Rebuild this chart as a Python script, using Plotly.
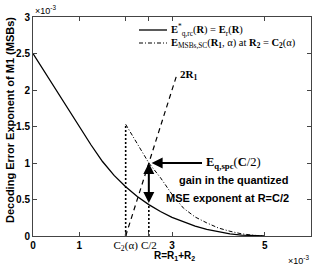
import plotly.graph_objects as go

# values in units of 1e-3
er_x = [0, 0.5, 1.0, 1.25, 1.5, 1.75, 2.0, 2.25, 2.5, 2.75, 3.0, 3.25, 3.5, 3.75, 4.0, 4.25, 4.5, 4.75, 5.0]
er_y = [2.5, 2.0, 1.5, 1.25, 1.02, 0.83, 0.675, 0.54, 0.43, 0.335, 0.255, 0.19, 0.135, 0.09, 0.055, 0.03, 0.013, 0.003, 0.0]

sc_x = [2.0, 2.0, 2.25, 2.5, 2.75, 3.0, 3.25, 3.5, 3.75, 4.0, 4.25, 4.5, 4.75, 5.0]
sc_y = [0.0, 1.53, 1.26, 1.0, 0.8, 0.57, 0.38, 0.26, 0.18, 0.11, 0.065, 0.03, 0.01, 0.0]

r1_x = [2.0, 3.09]
r1_y = [0.0, 2.18]

cq_x = [2.5, 2.5]
cq_y = [0.0, 0.43]

x_ticks = [0, 1, 2, 2.5, 3, 5]
x_labels = ["<b>0</b>", "<b>1</b>", "<span style='font-family:Liberation Serif;font-size:11px'>C<sub>2</sub>(α)</span>",
            "<span style='font-family:Liberation Serif;font-size:11px'>C/2</span>", "<b>3</b>", "<b>5</b>"]
y_ticks = [0, 0.5, 1, 1.5, 2, 2.5, 3]
y_labels = ["0", "0.5", "1", "1.5", "2", "2.5", "3"]

legend_names = ["<b>E</b><sup>*</sup><sub>q,rc</sub>(<b>R</b>) = <b>E</b><sub>r</sub>(<b>R</b>)",
                "<b>E</b><sub>MSBs,SC</sub>(<b>R<sub>1</sub></b>, α) at <b>R<sub>2</sub></b> = <b>C<sub>2</sub></b>(α)"]

SANS = "Liberation Sans"
SERIF = "Liberation Serif"

W, H = 319, 268
L, R, T, B = 33, 8, 17, 32
pw, ph = W - L - R, H - T - B

def px(x):
    return (x - L) / pw

def py(y):
    return (H - B - y) / ph

fig = go.Figure()
fig.add_trace(go.Scatter(x=er_x, y=er_y, mode="lines", line=dict(color="black", width=1.3), showlegend=False))
fig.add_trace(go.Scatter(x=sc_x[1:], y=sc_y[1:], mode="lines", line=dict(color="black", width=1, dash="4px,2px,1px,2px"),
                         showlegend=False))
fig.add_trace(go.Scatter(x=sc_x[:2], y=sc_y[:2], mode="lines", line=dict(color="black", width=1.6, dash="2px,2px"),
                         showlegend=False))
fig.add_trace(go.Scatter(x=r1_x, y=r1_y, mode="lines", line=dict(color="black", width=1.2, dash="5px,4px"),
                         showlegend=False))
fig.add_trace(go.Scatter(x=cq_x, y=cq_y, mode="lines", line=dict(color="black", width=1.6, dash="2px,2px"),
                         showlegend=False))

shapes = [
    dict(type="line", xref="paper", yref="paper", x0=px(139), x1=px(167), y0=py(30), y1=py(30),
         line=dict(color="black", width=1.3)),
    dict(type="line", xref="paper", yref="paper", x0=px(139), x1=px(167), y0=py(43), y1=py(43),
         line=dict(color="black", width=1, dash="4px,2px,1px,2px")),
]

ann = []
ann.append(dict(x=px(169), y=py(30), xref="paper", yref="paper", xanchor="left", yanchor="middle", showarrow=False,
                text=legend_names[0], font=dict(family=SERIF, size=10.5, color="black")))
ann.append(dict(x=px(169), y=py(43), xref="paper", yref="paper", xanchor="left", yanchor="middle", showarrow=False,
                text=legend_names[1], font=dict(family=SERIF, size=10.5, color="black")))
# double arrow
ann.append(dict(x=2.5, y=1.0, ax=2.5, ay=0.43, xref="x", yref="y", axref="x", ayref="y",
                text="", showarrow=True, arrowhead=2, arrowside="end+start", arrowsize=1.1, arrowwidth=2, arrowcolor="black"))
# pointer arrow
ann.append(dict(x=2.56, y=1.0, ax=3.68, ay=1.0, xref="x", yref="y", axref="x", ayref="y",
                text="", showarrow=True, arrowhead=2, arrowsize=1.1, arrowwidth=2, arrowcolor="black"))
ann.append(dict(x=3.7, y=1.0, xref="x", yref="y", xanchor="left", yanchor="middle", showarrow=False,
                text="<b>E</b><sub><b>q,spc</b></sub>(<b>C</b>/2)", font=dict(family=SERIF, size=12.5, color="black")))
ann.append(dict(x=4.33, y=0.77, xref="x", yref="y", xanchor="center", yanchor="middle", showarrow=False,
                text="<b>gain in the quantized</b>", font=dict(family=SANS, size=11, color="black")))
ann.append(dict(x=4.2, y=0.52, xref="x", yref="y", xanchor="center", yanchor="middle", showarrow=False,
                text="<b>MSE exponent at R=C/2</b>", font=dict(family=SANS, size=11, color="black")))
ann.append(dict(x=3.12, y=2.2, xref="x", yref="y", xanchor="left", yanchor="middle", showarrow=False,
                text="<b>2R<sub>1</sub></b>", font=dict(family=SERIF, size=11, color="black")))
# axis titles
ann.append(dict(x=px(10), y=py(120), xref="paper", yref="paper", showarrow=False,
                text="<b>Decoding Error Exponent of M1 (MSBs)</b>", textangle=-90,
                xanchor="center", yanchor="middle", font=dict(family=SANS, size=11, color="black")))
ann.append(dict(x=px(174), y=py(256), xref="paper", yref="paper", showarrow=False,
                text="<b>R=R<sub>1</sub>+R<sub>2</sub></b>", xanchor="center", yanchor="middle",
                font=dict(family=SANS, size=10, color="black")))
ann.append(dict(x=px(45), y=py(10), xref="paper", yref="paper", showarrow=False, text="×10<sup>-3</sup>",
                xanchor="center", yanchor="middle", font=dict(family=SANS, size=9, color="black")))
ann.append(dict(x=px(298), y=py(260), xref="paper", yref="paper", showarrow=False, text="×10<sup>-3</sup>",
                xanchor="center", yanchor="middle", font=dict(family=SANS, size=9, color="black")))

fig.update_layout(
    width=W, height=H, margin=dict(l=L, r=R, t=T, b=B),
    plot_bgcolor="white", paper_bgcolor="white",
    showlegend=False,
    annotations=ann, shapes=shapes,
    xaxis=dict(range=[0, 6], tickvals=x_ticks, ticktext=x_labels, ticks="inside", ticklen=4,
               showgrid=False, zeroline=False, showline=True, linecolor="#444", linewidth=1, mirror="ticks",
               tickfont=dict(family=SANS, size=10, color="black"), tickcolor="#444"),
    yaxis=dict(range=[0, 3], tickvals=y_ticks, ticktext=["<b>%s</b>" % t for t in y_labels], ticks="inside", ticklen=4,
               showgrid=False, zeroline=False, showline=True, linecolor="#444", linewidth=1, mirror="ticks",
               tickfont=dict(family=SANS, size=10, color="black"), tickcolor="#444"),
)
fig.write_html("out.html", config={"displayModeBar": False},
               post_script="document.body.style.margin='0';document.body.style.padding='0';")
